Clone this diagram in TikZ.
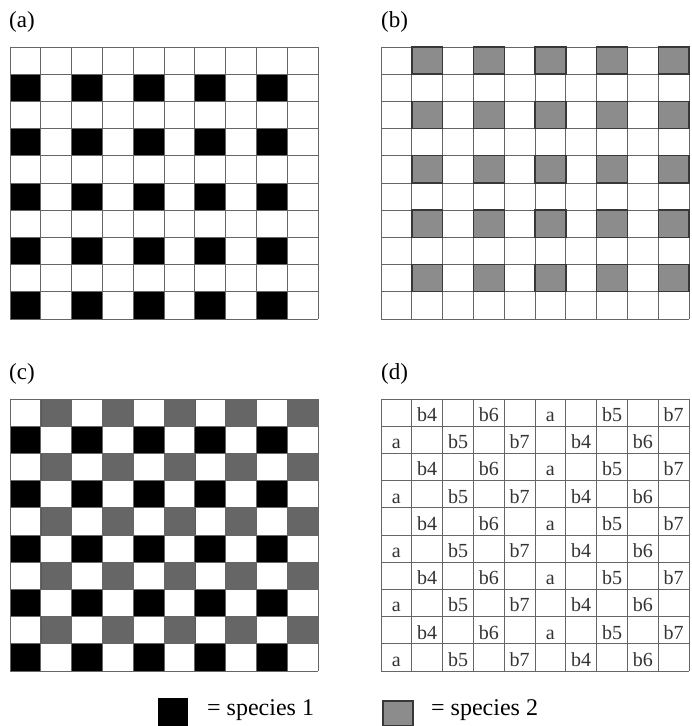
\documentclass[tikz,border=0pt]{standalone}
\usepackage{fontspec}
\setmainfont{Liberation Serif}

\begin{document}
\begin{tikzpicture}[x=1pt, y=1pt,
    gitter/.style={black!60, line width=0.9pt},
    artA/.style={fill=black},
    artB/.style={fill=black!45, draw=black!78, line width=1.4pt},
    artBdunkel/.style={fill=black!60, draw=black!65, line width=0.6pt},
    titel/.style={font=\fontsize{23}{26}\selectfont, anchor=base west, inner sep=0pt},
    eintrag/.style={font=\fontsize{20}{22}\selectfont, text=black!80, anchor=base, inner sep=0pt},
    legende/.style={font=\fontsize{24}{28}\selectfont, anchor=base west, inner sep=0pt}]

    % 0. Rahmen des Bildes
    \useasboundingbox (0,0) rectangle (692,726);

    % 1. Eckpunkte der vier Gitter (jeweils oben links)
    \coordinate (GA) at (10,679);
    \coordinate (GB) at (381,679);
    \coordinate (GC) at (10,327);
    \coordinate (GD) at (381,327);

    % 2. Gitter (a): nur Art 1
    \begin{scope}[shift={(GA)}]
        \foreach \r in {1,3,5,7,9}
            \foreach \c in {0,2,4,6,8}
                \fill[artA] (\c*30.8,-\r*27.2) rectangle ++(30.8,-27.2);
        \foreach \i in {0,...,10} {
            \draw[gitter] (\i*30.8,0) -- (\i*30.8,-272);
            \draw[gitter] (0,-\i*27.2) -- (308,-\i*27.2);
        }
    \end{scope}

    % 3. Gitter (b): nur Art 2
    \begin{scope}[shift={(GB)}]
        \foreach \i in {0,...,10} {
            \draw[gitter] (\i*30.8,0) -- (\i*30.8,-272);
            \draw[gitter] (0,-\i*27.2) -- (308,-\i*27.2);
        }
        \foreach \r in {0,2,4,6,8}
            \foreach \c in {1,3,5,7,9}
                \filldraw[artB] (\c*30.8,-\r*27.2) rectangle ++(30.8,-27.2);
    \end{scope}

    % 4. Gitter (c): beide Arten
    \begin{scope}[shift={(GC)}]
        \foreach \r in {1,3,5,7,9}
            \foreach \c in {0,2,4,6,8}
                \fill[artA] (\c*30.8,-\r*27.2) rectangle ++(30.8,-27.2);
        \foreach \r in {0,2,4,6,8}
            \foreach \c in {1,3,5,7,9}
                \filldraw[artBdunkel] (\c*30.8,-\r*27.2) rectangle ++(30.8,-27.2);
        \foreach \i in {0,...,10} {
            \draw[gitter] (\i*30.8,0) -- (\i*30.8,-272);
            \draw[gitter] (0,-\i*27.2) -- (308,-\i*27.2);
        }
    \end{scope}

    % 5. Gitter (d): Beschriftung der Zellen
    \begin{scope}[shift={(GD)}]
        \foreach \i in {0,...,10} {
            \draw[gitter] (\i*30.8,0) -- (\i*30.8,-272);
            \draw[gitter] (0,-\i*27.2) -- (308,-\i*27.2);
        }
        \foreach \c/\t in {1/b4,3/b6,5/a,7/b5,9/b7}
            \foreach \r in {0,2,4,6,8}
                \node[eintrag] (d-\r-\c) at (\c*30.8+15.4,-\r*27.2-22.5) {\t};
        \foreach \c/\t in {0/a,2/b5,4/b7,6/b4,8/b6}
            \foreach \r in {1,3,5,7,9}
                \node[eintrag] (d-\r-\c) at (\c*30.8+15.4,-\r*27.2-22.5) {\t};
    \end{scope}

    % 6. Teilbild-Bezeichnungen
    \node[titel] (ta) at (9,698) {(a)};
    \node[titel] (tb) at (381,698) {(b)};
    \node[titel] (tc) at (9,346) {(c)};
    \node[titel] (td) at (381,346) {(d)};

    % 7. Legende
    \fill[artA] (158,0) rectangle (188,28);
    \filldraw[artB] (383,0) rectangle (413,25);
    \node[legende] (l1) at (207,10) {= species 1};
    \node[legende] (l2) at (431,10) {= species 2};

\end{tikzpicture}
\end{document}
